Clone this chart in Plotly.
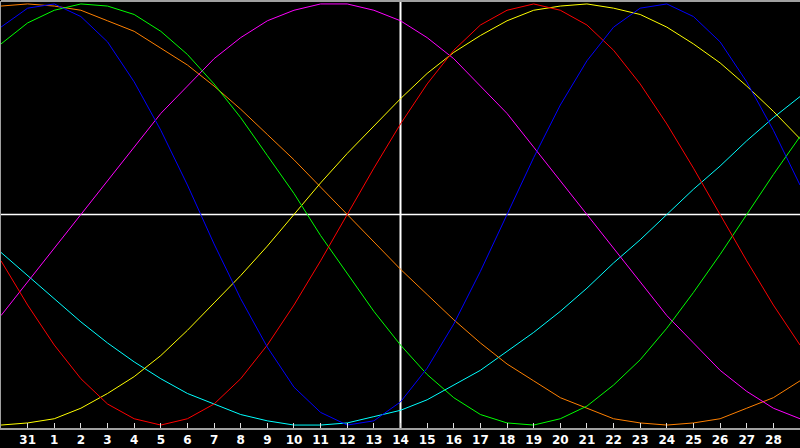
import plotly.graph_objects as go

# day index: 0 is the 31st of the previous month, 1..28 are this month
days = list(range(-1, 30))
day_labels = ["31"] + [str(d) for d in range(1, 29)]
today = 14

# cycle values in percent, one per day
physical = [89, 98, 100, 94, 82, 63, 40, 14, -14, -40, -63, -82, -94, -100, -98, -89,
            -73, -52, -27, 0, 27, 52, 73, 89, 98, 100, 94, 82, 63, 40, 14]
emotional = [-22, -43, -62, -78, -90, -97, -100, -97, -90, -78, -62, -43, -22, 0, 22, 43,
             62, 78, 90, 97, 100, 97, 90, 78, 62, 43, 22, 0, -22, -43, -62]
intellectual = [81, 91, 97, 100, 99, 95, 87, 76, 62, 46, 28, 10, -10, -28, -46, -62,
                -76, -87, -95, -99, -100, -97, -91, -81, -69, -54, -37, -19, 0, 19, 37]
intuitive = [-48, -32, -16, 0, 16, 32, 48, 61, 74, 84, 92, 97, 100, 100, 97, 92,
             84, 74, 61, 48, 32, 16, 0, -16, -32, -48, -61, -74, -84, -92, -97]
aesthetic = [-100, -99, -97, -92, -85, -77, -67, -55, -42, -29, -15, 0, 15, 29, 42, 55,
             67, 77, 85, 92, 97, 99, 100, 98, 95, 89, 81, 72, 61, 49, 36]
awareness = [99, 100, 99, 97, 92, 87, 79, 71, 61, 50, 38, 26, 13, 0, -13, -26,
             -38, -50, -61, -71, -79, -87, -92, -97, -99, -100, -99, -97, -92, -87, -79]
spiritual = [-18, -29, -40, -51, -61, -70, -78, -85, -90, -95, -98, -100, -100, -99, -96, -93,
             -88, -81, -74, -65, -56, -46, -35, -23, -12, 0, 12, 23, 35, 46, 56]

series = [
    ("Spiritual", spiritual, "#00ffff"),
    ("Awareness", awareness, "#ff8000"),
    ("Aesthetic", aesthetic, "#ffff00"),
    ("Intuitive", intuitive, "#ff00ff"),
    ("Intellectual", intellectual, "#00ff00"),
    ("Emotional", emotional, "#ff0000"),
    ("Physical", physical, "#0000ff"),
]

fig = go.Figure()
for name, vals, color in series:
    fig.add_trace(go.Scatter(
        x=days, y=vals, mode="lines", name=name,
        line=dict(color=color, width=1),
        hoverinfo="skip",
    ))

# today marker and zero line
fig.add_hline(y=0, line=dict(color="white", width=1.5), layer="below")
fig.add_vline(x=today, line=dict(color="white", width=2), layer="below")
# top frame line
fig.add_shape(type="line", xref="paper", yref="paper", x0=0, x1=1, y0=1, y1=1,
              line=dict(color="#a0a0a0", width=2))

fig.update_layout(
    width=800, height=448,
    paper_bgcolor="black", plot_bgcolor="black",
    showlegend=False,
    margin=dict(l=1, r=0, t=1, b=20),
    xaxis=dict(
        range=[-1, 29],
        tickvals=list(range(0, 29)),
        ticktext=[f"<b>{t}</b>" for t in day_labels],
        ticks="inside", ticklen=5, tickcolor="#e0e0e0", tickwidth=1,
        showline=True, linecolor="#a0a0a0", linewidth=2,
        showgrid=False, zeroline=False,
        tickfont=dict(family="DejaVu Sans", size=12, color="white"),
    ),
    yaxis=dict(
        range=[-101.4, 101.4],
        showticklabels=False, ticks="",
        showline=True, linecolor="#a0a0a0", linewidth=2,
        showgrid=False, zeroline=False,
    ),
)

# drop the default page margin so the chart fills the window exactly
fig.write_html(
    "out.html",
    config={"displayModeBar": False},
    post_script="document.body.style.margin='0';document.body.style.background='black';",
)
